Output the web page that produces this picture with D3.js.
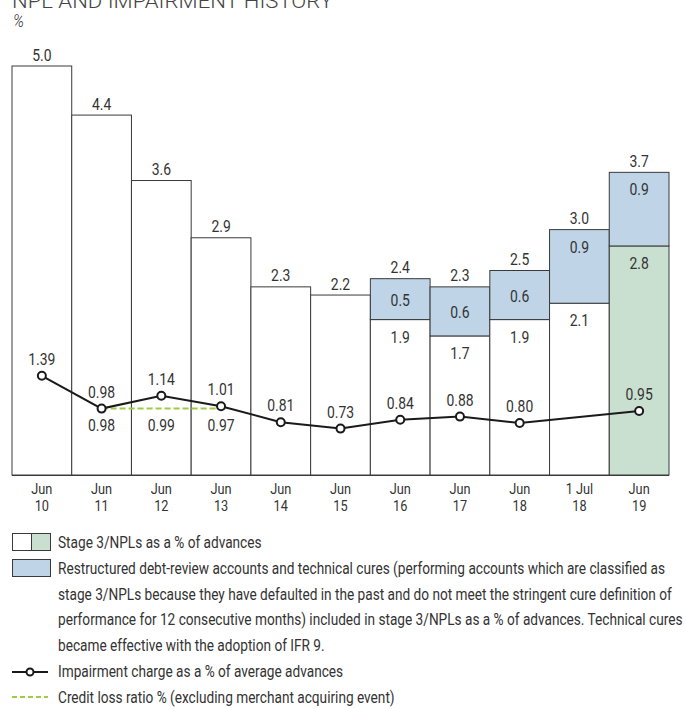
<!DOCTYPE html>
<html>
<head>
<meta charset="utf-8">
<script src="https://cdn.jsdelivr.net/npm/d3@7"></script>
<style>
  html, body { margin: 0; padding: 0; background: #fff; }
  svg { display: block; }
  text { font-family: "Roboto", "Liberation Sans", sans-serif; fill: #333; }
</style>
</head>
<body>
<svg id="chart" width="686" height="709"></svg>
<script>
// Period labels (two lines each)
const periods = [
  ["Jun", "10"], ["Jun", "11"], ["Jun", "12"], ["Jun", "13"], ["Jun", "14"],
  ["Jun", "15"], ["Jun", "16"], ["Jun", "17"], ["Jun", "18"], ["1 Jul", "18"], ["Jun", "19"]
];
// Stage 3/NPLs excluding restructured accounts, % of advances
const stage3 = [5.0, 4.4, 3.6, 2.9, 2.3, 2.2, 1.9, 1.7, 1.9, 2.1, 2.8];
// Restructured debt-review accounts and technical cures, % of advances
const restructured = [0, 0, 0, 0, 0, 0, 0.5, 0.6, 0.6, 0.9, 0.9];
// Total stage 3/NPLs as shown above each bar
const totals = [5.0, 4.4, 3.6, 2.9, 2.3, 2.2, 2.4, 2.3, 2.5, 3.0, 3.7];
// Impairment charge as % of average advances (no value for 1 Jul 18)
const impairment = [1.39, 0.98, 1.14, 1.01, 0.81, 0.73, 0.84, 0.88, 0.80, null, 0.95];
// Credit loss ratio excluding merchant acquiring event (Jun 11 - Jun 13)
const creditLossIdx = [1, 2, 3];
const creditLoss = [0.98, 0.99, 0.97];
// Bars reported under IFRS 9 (green)
const ifrs9 = [false, false, false, false, false, false, false, false, false, false, true];

const svg = d3.select("#chart");
const colWhite = "#ffffff", colGreen = "#c9e0d0", colBlue = "#bfd4e7";
const stroke = "#3a3a3a";
const lineCol = "#1a1a1a", dashCol = "#9dcb43";

// Condensed text: the face is squeezed horizontally around its anchor point
function ctext(parent, x, y, str, size, sx, anchor) {
  return parent.append("text")
    .attr("transform", `translate(${x},${y}) scale(${sx},1)`)
    .attr("text-anchor", anchor || "start")
    .attr("font-size", size)
    .text(str);
}

const x = d3.scaleBand().domain(d3.range(periods.length)).range([12, 669]).padding(0);
const y = d3.scaleLinear().domain([0, 5]).range([475, 66]);
const yLine = d3.scaleLinear().domain([0, 1]).range([487, 407]);
const cx = i => x(i) + x.bandwidth() / 2;

// Title and unit
svg.append("text").attr("x", 12).attr("y", 8).attr("font-size", 21)
  .attr("font-weight", 300).style("fill", "#444")
  .attr("textLength", 321).attr("lengthAdjust", "spacingAndGlyphs")
  .text("NPL AND IMPAIRMENT HISTORY");
ctext(svg, 13, 27, "%", 18, 0.85).attr("font-style", "italic").attr("font-weight", 300);

const NUM = 17, NSX = 0.82;
const bars = svg.append("g");
periods.forEach((p, i) => {
  const x0 = x(i), w = x.bandwidth(), mid = x0 + w / 2;
  bars.append("rect")
    .attr("x", x0).attr("width", w)
    .attr("y", y(stage3[i])).attr("height", y(0) - y(stage3[i]))
    .attr("fill", ifrs9[i] ? colGreen : colWhite)
    .attr("stroke", stroke).attr("stroke-width", 1);
  if (restructured[i] > 0) {
    const top = y(stage3[i] + restructured[i]);
    const h = y(stage3[i]) - top;
    bars.append("rect")
      .attr("x", x0).attr("width", w)
      .attr("y", top).attr("height", h)
      .attr("fill", colBlue).attr("stroke", stroke).attr("stroke-width", 1);
    const ly = h < 60 ? top + h / 2 + 1 : top + 17;
    ctext(bars, mid, ly + 6, restructured[i].toFixed(1), NUM, NSX, "middle");
    ctext(bars, mid, y(stage3[i]) + 17 + 6, stage3[i].toFixed(1), NUM, NSX, "middle");
  }
  ctext(bars, mid, y(totals[i]) - 11.5 + 6, totals[i].toFixed(1), NUM, NSX, "middle");
  ctext(svg, mid, 494, p[0], 15, 0.85, "middle");
  ctext(svg, mid, 511, p[1], 15, 0.85, "middle");
});

// Baseline
svg.append("line").attr("x1", 12).attr("x2", 669).attr("y1", 475.5).attr("y2", 475.5)
  .attr("stroke", stroke).attr("stroke-width", 1.2);

// Credit loss ratio (dashed)
svg.append("path")
  .datum(creditLossIdx)
  .attr("d", d3.line().x(i => cx(i)).y(() => yLine(d3.mean(creditLoss))))
  .attr("fill", "none").attr("stroke", dashCol).attr("stroke-width", 2)
  .attr("stroke-dasharray", "6,3");

// Impairment charge line with open markers
const pts = impairment.map((v, i) => ({ i, v })).filter(d => d.v != null);
svg.append("path")
  .datum(pts)
  .attr("d", d3.line().x(d => cx(d.i)).y(d => yLine(d.v)))
  .attr("fill", "none").attr("stroke", lineCol).attr("stroke-width", 2);
svg.selectAll("circle.imp").data(pts).enter().append("circle")
  .attr("class", "imp")
  .attr("cx", d => cx(d.i)).attr("cy", d => yLine(d.v)).attr("r", 4)
  .attr("fill", "#fff").attr("stroke", lineCol).attr("stroke-width", 2);

// Impairment values above the markers
pts.forEach(d => {
  ctext(svg, cx(d.i), yLine(d.v) - 11, d.v.toFixed(2), NUM, NSX, "middle");
});
// Credit loss values below the dashed line
creditLoss.forEach((v, k) => {
  ctext(svg, cx(creditLossIdx[k]), yLine(d3.mean(creditLoss)) + 22, v.toFixed(2), NUM, NSX, "middle");
});

// Legend
const lg = svg.append("g");
lg.append("rect").attr("x", 12.5).attr("y", 533.5).attr("width", 19).attr("height", 17)
  .attr("fill", colWhite).attr("stroke", stroke);
lg.append("rect").attr("x", 31.5).attr("y", 533.5).attr("width", 19).attr("height", 17)
  .attr("fill", colGreen).attr("stroke", stroke);
lg.append("rect").attr("x", 12.5).attr("y", 559.5).attr("width", 38).attr("height", 17)
  .attr("fill", colBlue).attr("stroke", stroke);
const legendText = [
  "Stage 3/NPLs as a % of advances",
  "Restructured debt-review accounts and technical cures (performing accounts which are classified as",
  "stage 3/NPLs because they have defaulted in the past and do not meet the stringent cure definition of",
  "performance for 12 consecutive months) included in stage 3/NPLs as a % of advances. Technical cures",
  "became effective with the adoption of IFR 9.",
  "Impairment charge as a % of average advances",
  "Credit loss ratio % (excluding merchant acquiring event)"
];
legendText.forEach((t, k) => {
  ctext(lg, 58, 548 + k * 25.8, t, 16, 0.853);
});
lg.append("line").attr("x1", 12).attr("x2", 48).attr("y1", 672).attr("y2", 672)
  .attr("stroke", lineCol).attr("stroke-width", 2);
lg.append("circle").attr("cx", 30).attr("cy", 672).attr("r", 3.5)
  .attr("fill", "#fff").attr("stroke", lineCol).attr("stroke-width", 2);
lg.append("line").attr("x1", 12).attr("x2", 48).attr("y1", 697).attr("y2", 697)
  .attr("stroke", dashCol).attr("stroke-width", 2).attr("stroke-dasharray", "5,3");
</script>
</body>
</html>
